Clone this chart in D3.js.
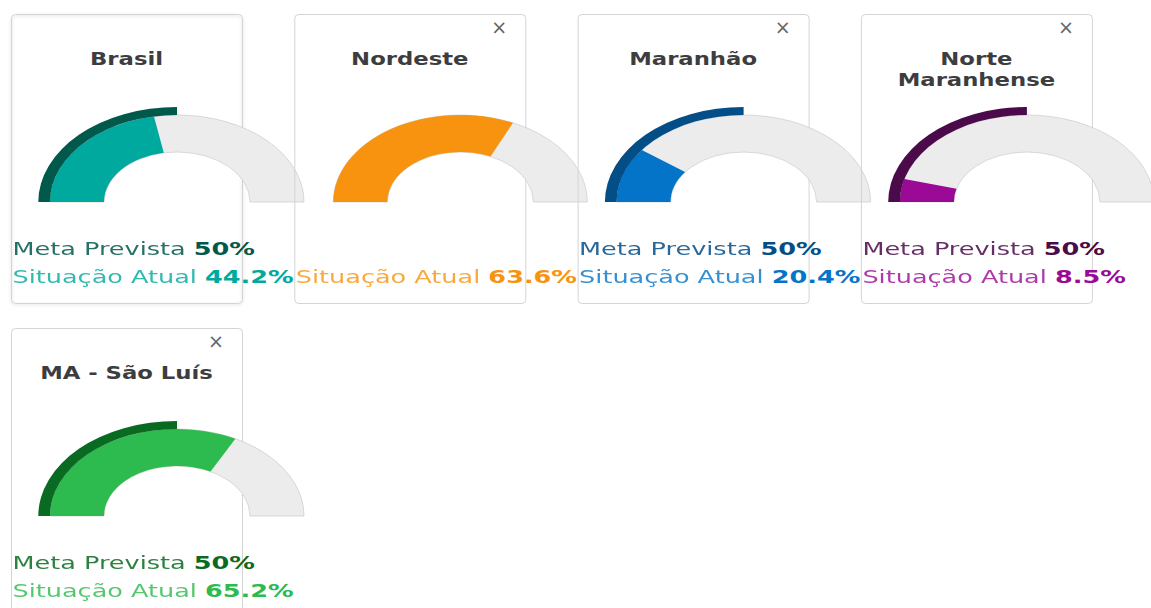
<!DOCTYPE html>
<html>
<head>
<meta charset="utf-8">
<script src="https://cdn.jsdelivr.net/npm/d3@7"></script>
<style>
  body { margin: 0; background: #fff; }
  svg { display: block; }
</style>
</head>
<body>
<div id="gauges"></div>
<script>
// data
const regions = ['Brasil', 'Nordeste', 'Maranhão', 'Norte Maranhense', 'MA - São Luís'];
const metaValues = [50, null, 50, 50, 50];
const atualValues = [44.2, 63.6, 20.4, 8.5, 65.2];
const closable = [false, true, true, true, true];

const metaColors = ['#00594b', null, '#044e88', '#4b0a49', '#096b21'];
const atualColors = ['#00a99d', '#f7930e', '#0474c8', '#9b0a96', '#2dba4e'];

const width = 1151;
const height = 608;
const cardW = 231, cardH = 289;
const cardStepX = 283.3, cardStepY = 314;
const cardOrigin = {x: 11, y: 14};
const perRow = 4;

// the page was rendered stretched horizontally
const SX = 1.46;
const titleSX = 1.3;
const rOuter = 87, rInner = 50, rMeta = 95;
const gaugeCenter = {x: 166, y: 188};

const angle = d3.scaleLinear().domain([0, 100]).range([-Math.PI / 2, Math.PI / 2]);

const svg = d3.select('#gauges')
    .append('svg')
    .attr('width', width)
    .attr('height', height);

const defs = svg.append('defs');
const shadow = defs.append('filter').attr('id', 'cardShadow')
    .attr('x', '-10%').attr('y', '-10%').attr('width', '120%').attr('height', '120%');
shadow.append('feDropShadow')
    .attr('dx', 0).attr('dy', 1).attr('stdDeviation', 1.5)
    .attr('flood-color', '#000').attr('flood-opacity', 0.18);

const arcGen = d3.arc();

regions.forEach(function(name, i) {
    const col = i % perRow, row = Math.floor(i / perRow);
    const card = svg.append('g')
        .attr('transform', `translate(${cardOrigin.x + col * cardStepX},${cardOrigin.y + row * cardStepY})`);

    card.append('rect')
        .attr('x', 0.5).attr('y', 0.5)
        .attr('width', cardW).attr('height', cardH)
        .attr('rx', 4)
        .attr('fill', 'none')
        .attr('stroke', '#d4d4d4')
        .attr('stroke-width', 1)
        .attr('filter', closable[i] ? null : 'url(#cardShadow)');

    if (closable[i]) {
        card.append('text')
            .attr('x', cardW - 26)
            .attr('y', 20)
            .attr('text-anchor', 'middle')
            .style('font-family', 'DejaVu Sans')
            .style('font-size', '19px')
            .attr('fill', '#666')
            .text('×');
    }

    // title, wrapped when too wide
    const title = card.append('text')
        .attr('transform', `translate(${cardW / 2},51) scale(${titleSX},1)`)
        .attr('text-anchor', 'middle')
        .style('font-family', 'DejaVu Sans')
        .style('font-weight', 'bold')
        .style('font-size', '17.5px')
        .attr('fill', '#3d3d40');
    const words = name.split(' ');
    let line = [];
    let tspan = title.append('tspan').attr('x', 0).attr('dy', 0);
    words.forEach(function(w) {
        line.push(w);
        tspan.text(line.join(' '));
        if (tspan.node().getComputedTextLength() * titleSX > 205 && line.length > 1) {
            line.pop();
            tspan.text(line.join(' '));
            line = [w];
            tspan = title.append('tspan').attr('x', 0).attr('dy', 21).text(w);
        }
    });

    // gauge
    const g = card.append('g')
        .attr('transform', `translate(${gaugeCenter.x},${gaugeCenter.y}) scale(${SX},1)`);

    g.append('path')
        .attr('d', arcGen({innerRadius: rInner, outerRadius: rOuter,
            startAngle: angle(0), endAngle: angle(100)}))
        .attr('fill', '#ececec')
        .attr('stroke', '#cfcfcf')
        .attr('stroke-width', 0.8)
        .attr('vector-effect', 'non-scaling-stroke');

    g.append('path')
        .attr('d', arcGen({innerRadius: rInner, outerRadius: rOuter,
            startAngle: angle(0), endAngle: angle(atualValues[i])}))
        .attr('fill', atualColors[i]);

    if (metaValues[i] != null) {
        g.append('path')
            .attr('d', arcGen({innerRadius: rOuter, outerRadius: rMeta,
                startAngle: angle(0), endAngle: angle(metaValues[i])}))
            .attr('fill', metaColors[i]);
    }

    // labels
    const labels = card.append('g')
        .attr('transform', `translate(1.5,0) scale(${SX},1)`)
        .style('font-family', 'DejaVu Sans')
        .style('font-size', '17.5px');

    if (metaValues[i] != null) {
        const t = labels.append('text').attr('x', 0).attr('y', 241).attr('fill', metaColors[i]);
        t.append('tspan').style('opacity', 0.85).text('Meta Prevista ');
        t.append('tspan').style('font-weight', 'bold').text(metaValues[i] + '%');
    }
    const t2 = labels.append('text').attr('x', 0).attr('y', 269).attr('fill', atualColors[i]);
    t2.append('tspan').style('opacity', 0.8).text('Situação Atual ');
    t2.append('tspan').style('font-weight', 'bold').text(atualValues[i] + '%');
});
</script>
</body>
</html>
